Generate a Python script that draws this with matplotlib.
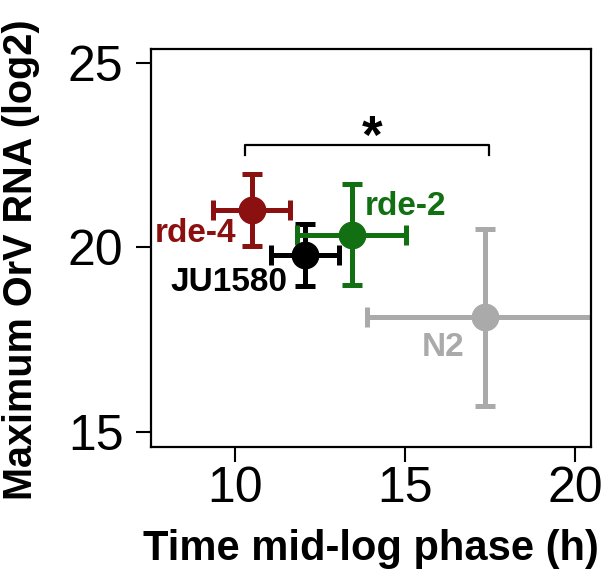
import matplotlib
matplotlib.use("Agg")
import matplotlib.pyplot as plt

plt.rcParams['font.family'] = ['Liberation Sans', 'DejaVu Sans']

# strains, values
strains = ["rde-4", "JU1580", "rde-2", "N2"]
colours = ["#8b1010", "#000000", "#127012", "#aaaaaa"]
mid_log = [10.49, 12.06, 13.43, 17.35]
mid_log_err = [1.14, 0.99, 1.60, 3.46]
max_rna = [21.02, 19.80, 20.34, 18.11]
max_rna_err = [0.98, 0.84, 1.37, 2.40]

# label positions (x, y, horizontal alignment)
label_pos = [(10.03, 20.39, "right"), (11.53, 19.04, "right"),
             (13.82, 21.12, "left"), (16.12, 17.28, "center")]

fig = plt.figure(figsize=(6.12, 5.85), dpi=100)
ax = fig.add_axes([0.2467, 0.2364, 0.9652 - 0.2467, 0.9162 - 0.2364])

for i in range(len(strains)):
    ax.errorbar(mid_log[i], max_rna[i], xerr=mid_log_err[i], yerr=max_rna_err[i],
                fmt="o", color=colours[i], ms=19, elinewidth=3.6, capsize=7.5,
                capthick=3.6, zorder=3 if i != 3 else 2)
    lx, ly, ha = label_pos[i]
    ax.text(lx, ly, strains[i], color=colours[i], fontsize=24, fontweight="bold",
            ha=ha, va="center")

# significance bracket
ax.plot([10.29, 10.29, 17.48, 17.48], [22.5, 22.78, 22.78, 22.5], color="black", lw=1.6)
ax.text(14.02, 22.95, "*", fontsize=38, fontweight="bold", ha="center", va="center")

ax.set_xlim(7.53, 20.46)
ax.set_ylim(14.6, 25.38)
ax.set_xticks([10, 15, 20])
ax.set_yticks([15, 20, 25])
ax.tick_params(direction="out", length=10.8, width=1.5, labelsize=36)
ax.tick_params(axis="y", pad=9)
ax.tick_params(axis="x", pad=3)
for s in ax.spines.values():
    s.set_linewidth(1.6)

ax.set_xlabel("Time mid-log phase (h)", fontsize=30, fontweight="bold", labelpad=12)
ax.set_ylabel("Maximum OrV RNA (log2)", fontsize=28.5, fontweight="bold")
ax.yaxis.set_label_coords(-0.252, 0.47)

fig.savefig("out.png", dpi=100)
